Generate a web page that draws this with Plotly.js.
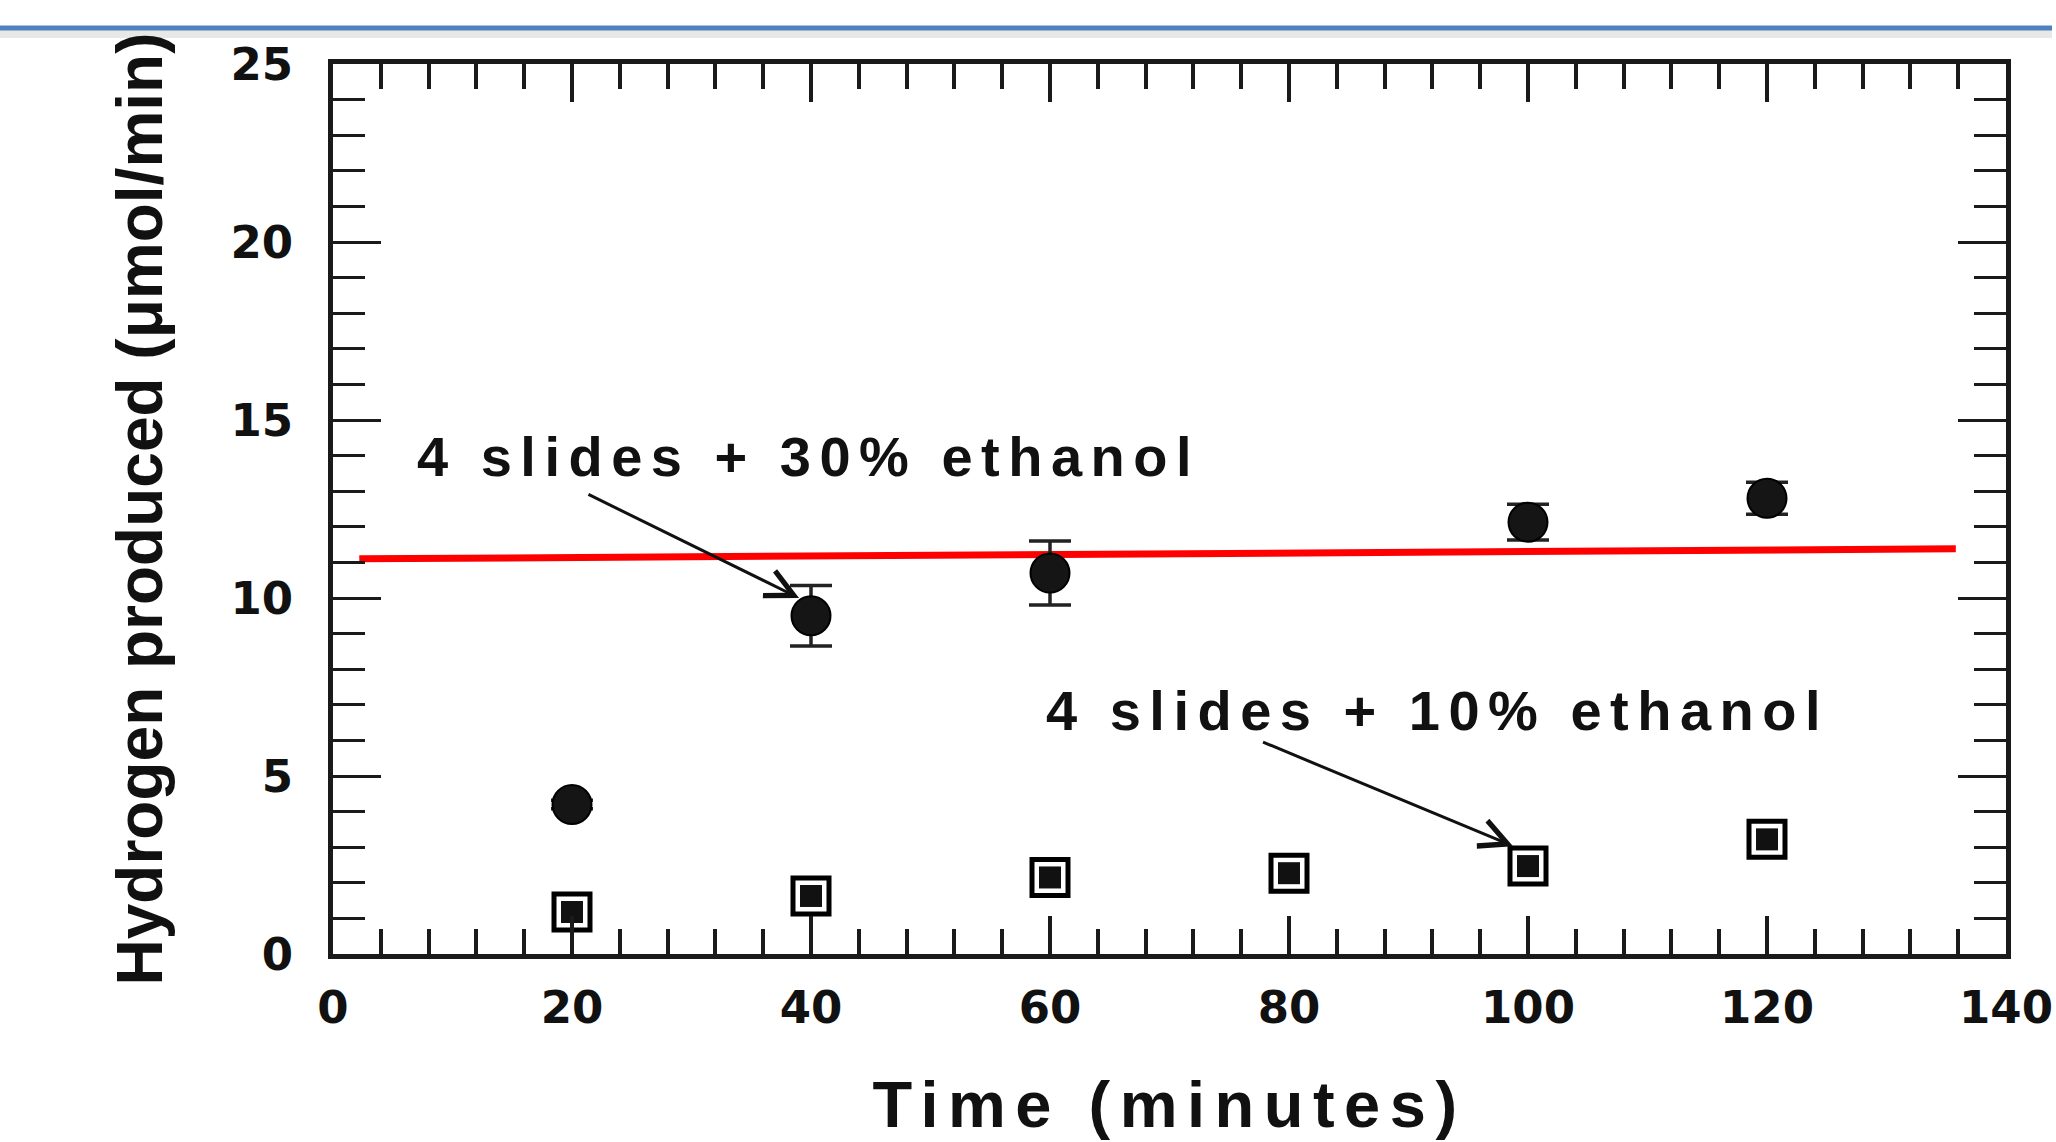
<!DOCTYPE html>
<html>
<head>
<meta charset="utf-8">
<script src="https://cdn.plot.ly/plotly-3.0.1.min.js"></script>
<style>
  html, body { margin: 0; padding: 0; background: #ffffff; }
  #chart { width: 2056px; height: 1142px; }
</style>
</head>
<body>
<div id="chart"></div>
<script>
// ---- data ----
const timeEth30 = [20, 40, 60, 100, 120];
const h2Eth30 = [4.2, 9.5, 10.7, 12.13, 12.8];
const errEth30 = [0.12, 0.85, 0.9, 0.5, 0.45];

const timeEth10 = [20, 40, 60, 80, 100, 120];
const h2Eth10 = [1.18, 1.63, 2.15, 2.27, 2.47, 3.22];
const errEth10 = [0.2, 0.2, 0.2, 0.2, 0.2, 0.2];

const fitTime = [2.2, 135.8];
const fitH2 = [11.1, 11.38];

const xTickVals = [0, 20, 40, 60, 80, 100, 120, 140];
const xTickText = ['0', '20', '40', '60', '80', '100', '120', '140'];
const yTickVals = [0, 5, 10, 15, 20, 25];
const yTickText = ['0', '5', '10', '15', '20', '25'];

const label30 = '4 slides + 30% ethanol';
const label10 = '4 slides + 10% ethanol';
const xTitle = 'Time (minutes)';
const yTitle = 'Hydrogen produced (\u03bcmol/min)';

// ---- layout geometry ----
const W = 2056, H = 1142;
const M = { l: 333, r: 50, t: 64, b: 188 };
const plotW = W - M.l - M.r, plotH = H - M.t - M.b;
const px2paperX = p => (p - M.l) / plotW;
const px2paperY = p => (H - M.b - p) / plotH;

const ink = '#1a1a1a';
const spaced = (t, ls) => '<span style="letter-spacing:' + ls + 'px">' + t + '</span>';

const traces = [
  {
    x: fitTime, y: fitH2, type: 'scatter', mode: 'lines',
    line: { color: '#ff0000', width: 7 }, hoverinfo: 'skip'
  },
  {
    x: timeEth30, y: h2Eth30, type: 'scatter', mode: 'markers',
    marker: { symbol: 'circle', size: 39, color: '#151515', line: { color: '#000', width: 2 } },
    error_y: { type: 'data', array: errEth30, visible: true, color: '#222', thickness: 3.5, width: 21 }
  },
  {
    x: timeEth10, y: h2Eth10, type: 'scatter', mode: 'markers',
    marker: { symbol: 'square', size: 36, color: '#ffffff', line: { color: '#000', width: 5 } },
    error_y: { type: 'data', array: errEth10, visible: true, color: '#222', thickness: 3, width: 10 }
  },
  {
    x: timeEth10, y: h2Eth10, type: 'scatter', mode: 'markers',
    marker: { symbol: 'square', size: 22, color: '#111' }, hoverinfo: 'skip'
  }
];

const axisCommon = {
  showline: true, linewidth: 5, linecolor: ink, mirror: 'ticks',
  showgrid: false, zeroline: false, ticks: 'inside', tickcolor: ink,
  tickmode: 'array', automargin: false
};

const layout = {
  width: W, height: H, margin: M,
  paper_bgcolor: '#ffffff', plot_bgcolor: '#ffffff',
  showlegend: false,
  xaxis: Object.assign({}, axisCommon, {
    range: [0, 140], tickvals: xTickVals, ticktext: xTickText,
    ticklen: 38, tickwidth: 4,
    minor: { dtick: 4, ticklen: 25, tickwidth: 4, tickcolor: ink, ticks: 'inside' },
    tickfont: { family: 'DejaVu Sans', size: 45, weight: 'bold', color: '#111' },
    ticklabelstandoff: 10,
    title: { text: spaced(xTitle, 9.5), font: { family: 'Liberation Sans', size: 65, weight: 'bold', color: '#111' }, standoff: 50 }
  }),
  yaxis: Object.assign({}, axisCommon, {
    range: [0, 25], tickvals: yTickVals, ticktext: yTickText,
    ticklen: 48, tickwidth: 3,
    minor: { dtick: 1, ticklen: 32, tickwidth: 3, tickcolor: ink, ticks: 'inside' },
    tickfont: { family: 'DejaVu Sans', size: 45, weight: 'bold', color: '#111' },
    ticklabelstandoff: 26,
    title: { text: yTitle, font: { family: 'Liberation Sans', size: 64, weight: 'bold', color: '#111' }, standoff: 48 }
  }),
  shapes: [
    { type: 'rect', xref: 'paper', yref: 'paper',
      x0: px2paperX(0), x1: px2paperX(2052), y0: px2paperY(38), y1: px2paperY(30),
      fillcolor: 'rgba(0,0,0,0.09)', line: { width: 0 } },
    { type: 'line', xref: 'paper', yref: 'paper',
      x0: px2paperX(0), x1: px2paperX(2052), y0: px2paperY(28), y1: px2paperY(28),
      line: { color: '#4f81bd', width: 5 } }
  ],
  annotations: [
    { x: 39.8, y: 13.97, xref: 'x', yref: 'y', text: spaced(label30, 8.5), showarrow: false,
      font: { family: 'Liberation Sans', size: 56, weight: 'bold', color: '#111' }, xanchor: 'center', yanchor: 'middle' },
    { x: 92.4, y: 6.85, xref: 'x', yref: 'y', text: spaced(label10, 8.5), showarrow: false,
      font: { family: 'Liberation Sans', size: 56, weight: 'bold', color: '#111' }, xanchor: 'center', yanchor: 'middle' },
    { x: 39.0, y: 10.0, ax: 21.25, ay: 12.93, xref: 'x', yref: 'y', axref: 'x', ayref: 'y',
      text: '', showarrow: true, arrowhead: 5, arrowsize: 1.8, arrowwidth: 3, arrowcolor: '#111', standoff: 0 },
    { x: 98.75, y: 3.03, ax: 77.7, ay: 5.97, xref: 'x', yref: 'y', axref: 'x', ayref: 'y',
      text: '', showarrow: true, arrowhead: 5, arrowsize: 1.8, arrowwidth: 3, arrowcolor: '#111', standoff: 0 }
  ]
};

Plotly.newPlot('chart', traces, layout, { displayModeBar: false, staticPlot: true });
</script>
</body>
</html>
